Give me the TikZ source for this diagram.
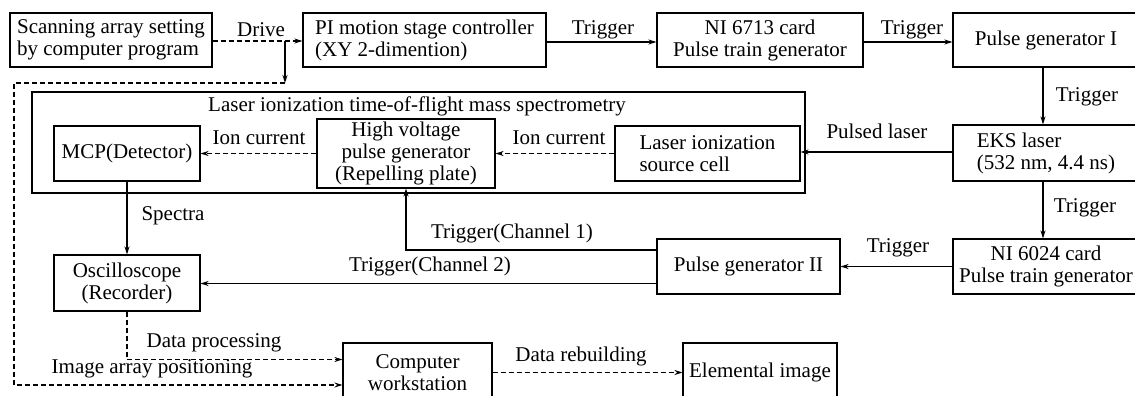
\documentclass[tikz,border=0pt]{standalone}
\usepackage{fontspec}
\setmainfont{Liberation Serif}
\usetikzlibrary{arrows.meta}
\begin{document}
\begin{tikzpicture}[x=1pt, y=-1pt, line width=1.1pt,
  font=\fontsize{21}{22}\selectfont,
  box/.style={draw, inner sep=0pt, align=center},
  arr/.style={-{Stealth[length=8pt,width=5pt]}},
  dsh/.style={dash pattern=on 5pt off 3pt}]
\useasboundingbox (0,0) rectangle (1135,396);
\node[box, minimum width=773pt, minimum height=101pt] (litof) at (418.5,142.5) {};
\node at (417,106) {Laser ionization time-of-flight mass spectrometry};
\node[box, align=left, minimum width=202pt, minimum height=54pt] (scan) at (111,40) {Scanning array setting\\by computer program};
\node[box, align=left, minimum width=243pt, minimum height=54pt] (pi) at (424.5,40) {PI motion stage controller\\(XY 2-dimention)};
\node[box, minimum width=206pt, minimum height=54pt] (ni13) at (760,40) {NI 6713 card\\Pulse train generator};
\node[box, minimum width=186pt, minimum height=54pt] (pg1) at (1046,40) {Pulse generator I};
\node[box, align=left, minimum width=186pt, minimum height=56pt] (eks) at (1046,153) {EKS laser\\(532 nm, 4.4 ns)};
\node[box, minimum width=186pt, minimum height=55pt] (ni24) at (1046,266.5) {NI 6024 card\\Pulse train generator};
\node[box, minimum width=183pt, minimum height=55pt] (pg2) at (748.5,266.5) {Pulse generator II};
\node[box, align=left, minimum width=185pt, minimum height=55pt] (src) at (707.5,153.5) {Laser ionization\\source cell};
\node[box, minimum width=178pt, minimum height=69pt] (hv) at (406,153.5) {High voltage\\pulse generator\\(Repelling plate)};
\node[box, minimum width=146pt, minimum height=55pt] (mcp) at (127,153.5) {MCP(Detector)};
\node[box, minimum width=146pt, minimum height=56pt] (osc) at (127,283) {Oscilloscope\\(Recorder)};
\node[box, minimum width=149pt, minimum height=59pt] (comp) at (417.5,372.5) {Computer\\workstation};
\node[box, minimum width=154pt, minimum height=59pt] (elem) at (760,372.5) {Elemental image};
\coordinate (split) at (285,41);
\coordinate (drop) at (285,83);
\coordinate (far) at (14,83);
\draw[arr, dsh] ([yshift=-1pt]scan.east) -- ([yshift=-1pt]pi.west);
\draw[arr] (split) -- (drop);
\draw[arr, dsh] (drop) -- (far) |- ([yshift=-12.5pt]comp.west);
\draw[arr, dsh] (osc.south) |- ([yshift=13pt]comp.west);
\draw[arr] ([yshift=-2pt]pi.east) -- ([yshift=-2pt]ni13.west);
\draw[arr] ([yshift=-2pt]ni13.east) -- ([yshift=-2pt]pg1.west);
\draw[arr] ([xshift=-3pt]pg1.south) -- ([xshift=-3pt]eks.north);
\draw[arr] ([yshift=1pt]eks.west) -- ([yshift=1pt]src.east |- eks.west);
\draw[arr, dsh] (src.west) -- (hv.east);
\draw[arr, dsh] (hv.west) -- (mcp.east);
\draw[arr] (mcp.south) -- (osc.north);
\draw[arr] ([xshift=-3pt]eks.south) -- ([xshift=-3pt]ni24.north);
\draw[arr] (ni24.west) -- (pg2.east);
\draw[arr] ([yshift=16.5pt]pg2.west) -| (hv.south);
\draw[arr] ([yshift=-17pt]pg2.west) -- ([yshift=-17pt]pg2.west -| osc.east);
\draw[arr, dsh] (comp.east) -- (elem.west);
\node at (261,30) {Drive};
\node at (603,30) {Trigger};
\node at (912,30) {Trigger};
\node at (1087,97) {Trigger};
\node at (877,131) {Pulsed laser};
\node at (559,138) {Ion current};
\node at (259,138) {Ion current};
\node at (173,216) {Spectra};
\node at (1085,208) {Trigger};
\node at (898,248) {Trigger};
\node at (512,233) {Trigger(Channel 1)};
\node at (430,266) {Trigger(Channel 2)};
\node at (214,343) {Data processing};
\node at (152,369) {Image array positioning};
\node at (581,356) {Data rebuilding};
\end{tikzpicture}
\end{document}
